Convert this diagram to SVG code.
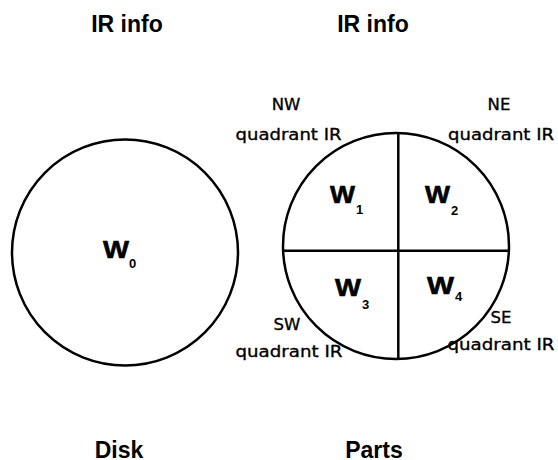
<svg xmlns="http://www.w3.org/2000/svg" width="558" height="460" viewBox="0 0 558 460">
  <style>
    .title { font-family: "Liberation Sans", Arial, sans-serif; font-weight: bold; font-size: 23px; fill: #000; text-anchor: middle; }
    .lbl { font-family: "DejaVu Sans", sans-serif; font-size: 16.5px; fill: #000; stroke: #000; stroke-width: 0.35; text-anchor: middle; }
    .w { font-family: "Liberation Sans", Arial, sans-serif; font-weight: bold; font-size: 24px; fill: #000; stroke: #000; stroke-width: 0.6; }
    .sub { font-family: "Liberation Sans", Arial, sans-serif; font-weight: bold; font-size: 13px; fill: #000; }
    .outline { fill: #fff; stroke: #000; stroke-width: 2.5; }
    .div { stroke: #000; stroke-width: 2.5; fill: none; }
  </style>
  <rect width="558" height="460" fill="#fff"/>

  <!-- column titles -->
  <text class="title" x="127" y="32">IR info</text>
  <text class="title" x="373" y="32">IR info</text>
  <text class="title" x="119" y="458">Disk</text>
  <text class="title" x="374" y="458">Parts</text>

  <!-- whole disk -->
  <g id="disk">
    <circle class="outline" cx="125" cy="252.5" r="113"/>
    <text class="w" x="103" y="257.5" textLength="26" lengthAdjust="spacingAndGlyphs">W</text>
    <text class="sub" x="129" y="267.5">0</text>
  </g>

  <!-- disk split into four quadrant parts -->
  <g id="parts">
    <circle class="outline" cx="396" cy="246" r="113"/>
    <g id="dividers">
      <line class="div" x1="398.3" y1="133" x2="398.3" y2="359"/>
      <line class="div" x1="283.1" y1="250.7" x2="508.9" y2="250.7"/>
    </g>
    <g id="w1">
      <text class="w" x="330" y="202.5" textLength="25" lengthAdjust="spacingAndGlyphs">W</text>
      <text class="sub" x="356" y="213.5">1</text>
    </g>
    <g id="w2">
      <text class="w" x="425" y="202.5" textLength="25" lengthAdjust="spacingAndGlyphs">W</text>
      <text class="sub" x="451" y="214.5">2</text>
    </g>
    <g id="w3">
      <text class="w" x="335" y="295.5" textLength="26" lengthAdjust="spacingAndGlyphs">W</text>
      <text class="sub" x="362" y="308.5">3</text>
    </g>
    <g id="w4">
      <text class="w" x="427" y="293.5" textLength="27" lengthAdjust="spacingAndGlyphs">W</text>
      <text class="sub" x="455" y="300.5">4</text>
    </g>
  </g>

  <!-- quadrant IR labels -->
  <g id="nw-label">
    <text class="lbl" x="286" y="110">NW</text>
    <text class="lbl" x="288.5" y="140" textLength="106" lengthAdjust="spacingAndGlyphs">quadrant IR</text>
  </g>
  <g id="ne-label">
    <text class="lbl" x="499" y="110">NE</text>
    <text class="lbl" x="501" y="140" textLength="106" lengthAdjust="spacingAndGlyphs">quadrant IR</text>
  </g>
  <g id="sw-label">
    <text class="lbl" x="287" y="330">SW</text>
    <text class="lbl" x="289" y="357" textLength="107" lengthAdjust="spacingAndGlyphs">quadrant IR</text>
  </g>
  <g id="se-label">
    <text class="lbl" x="501" y="323">SE</text>
    <text class="lbl" x="501" y="350" textLength="107" lengthAdjust="spacingAndGlyphs">quadrant IR</text>
  </g>
</svg>
